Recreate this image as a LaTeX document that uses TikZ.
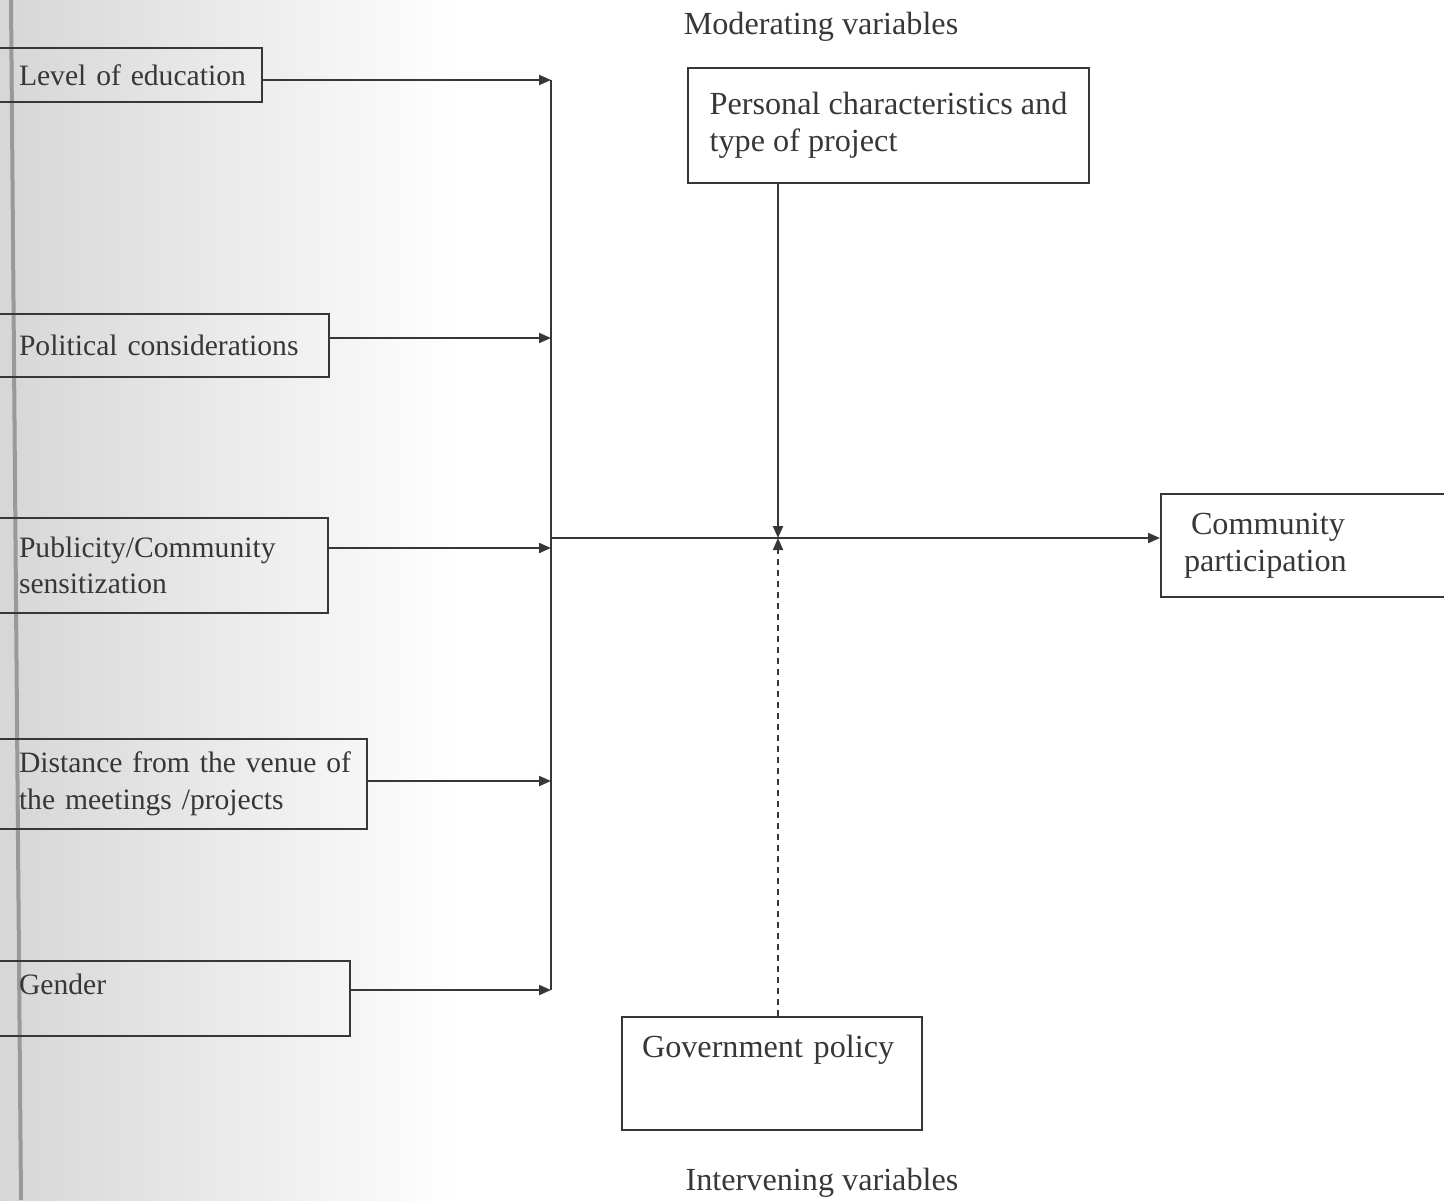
\documentclass[tikz,border=0pt]{standalone}
\usepackage{fontspec}
\setmainfont{Liberation Serif}
\usetikzlibrary{arrows.meta, calc}

\definecolor{scanink}{RGB}{55,55,55}

\begin{document}
\begin{tikzpicture}[x=0.5pt, y=-0.5pt,
        every node/.style={text=scanink, font=\fontsize{16.1pt}{18.7pt}\selectfont},
        varbox/.style={draw=scanink, line width=1pt, rectangle, align=left, inner xsep=4pt, inner ysep=3pt},
        factor/.style={varbox, anchor=north east, inner xsep=15pt, font=\fontsize{14.8pt}{18.3pt}\selectfont},
        link/.style={draw=scanink, line width=1pt, arrows={-{Triangle[length=6pt, width=5pt]}}}]
        \useasboundingbox (0, 0) rectangle (1444, 1200);
        \clip (0, 0) rectangle (1444, 1200);
        \shade [left color=black!16, right color=white] (0, 0) rectangle (460, 1200);
        \draw [black!40, line width=2pt] (11, 0) -- (21, 1200);
        \node [factor, text width=106.5pt, minimum height=27pt] (edu) at (263, 47) {\mbox{Level of education}};
        \node [factor, text width=140pt, minimum height=31.5pt] (pol) at (330, 313) {\mbox{Political considerations}};
        \node [factor, text width=139.5pt, minimum height=47.5pt] (pub) at (329, 517) {\mbox{Publicity/Community}\\\mbox{sensitization}};
        \node [factor, text width=159pt, minimum height=45pt] (dist) at (368, 738) {\mbox{Distance from the venue of}\\\mbox{the meetings /projects}};
        \node [factor, text width=150.5pt, text height=13.5pt, text depth=18pt] (gen) at (351, 960) {Gender};
        \node [varbox, anchor=north west, minimum width=200.5pt, minimum height=57.5pt] (pers) at (687, 67) {Personal characteristics and\\type of project};
        \node [varbox, anchor=north west, text width=130pt, inner xsep=10pt, text height=17pt, text depth=33.5pt] (gov) at (621, 1016) {Government policy};
        \node [varbox, anchor=north west, text width=132pt, inner xsep=11.5pt, minimum height=51.5pt] (comm) at (1160, 493) {\hspace*{3.5pt}Community\\participation};
        \node (moder) at (821, 27) {Moderating variables};
        \node (interv) at (822, 1183) {Intervening variables};
        \coordinate (b1) at (551, 80);
        \coordinate (b2) at (551, 338);
        \coordinate (b3) at (551, 548);
        \coordinate (b4) at (551, 781);
        \coordinate (b5) at (551, 990);
        \coordinate (join) at (551, 538);
        \coordinate (mid) at (778, 538);
        \path [link] (edu.east |- b1) -- (b1);
        \path [link] (pol.east |- b2) -- (b2);
        \path [link] (pub.east |- b3) -- (b3);
        \path [link] (dist.east |- b4) -- (b4);
        \path [link] (gen.east |- b5) -- (b5);
        \draw [scanink, line width=1pt] (b1) -- (b5);
        \path [link] (join) -- (join -| comm.west);
        \path [link] (pers.south -| mid) -- (mid);
        \path [link, dash pattern=on 3pt off 2.5pt] (gov.north -| mid) -- (mid);
\end{tikzpicture}
\end{document}
